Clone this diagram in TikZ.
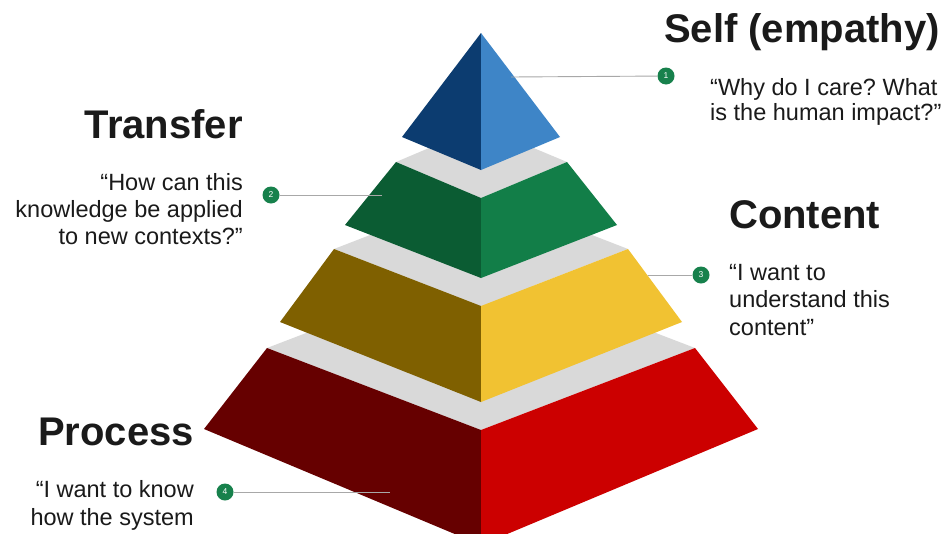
\documentclass[tikz,border=0pt]{standalone}
\usepackage{fontspec}
\setmainfont{Liberation Sans}
\frenchspacing
\definecolor{bluedark}{HTML}{0C3C70}
\definecolor{bluelight}{HTML}{3E85C7}
\definecolor{greendark}{HTML}{0B5C33}
\definecolor{greenlight}{HTML}{127E48}
\definecolor{yeldark}{HTML}{7F6000}
\definecolor{yellight}{HTML}{F1C232}
\definecolor{reddark}{HTML}{660000}
\definecolor{redlight}{HTML}{CC0000}
\definecolor{shelf}{HTML}{D9D9D9}
\definecolor{leader}{HTML}{A8A8A8}
\definecolor{badge}{HTML}{17814C}
\definecolor{ink}{HTML}{1A1A1A}
\tikzset{
  title/.style={inner sep=0pt, text=ink, font={\fontsize{40}{44}\selectfont\bfseries}},
  body/.style={inner sep=0pt, text=ink, font={\fontsize{23.5}{#1}\selectfont\frenchspacing}},
  numdot/.style={circle, fill=badge, minimum size=17pt, inner sep=0pt, text=white, font={\fontsize{8.5}{8.5}\selectfont}},
  leaderline/.style={draw=leader, line width=0.9pt},
}
\begin{document}
\begin{tikzpicture}[x=1pt,y=-1pt]
\clip (0,0) rectangle (950,533);
\fill[white] (0,0) rectangle (950,533);
% red tier
\fill[shelf] (267,348) -- (481,266) -- (695,348) -- (481,430) -- cycle;
\fill[reddark] (267,348) -- (481,430) -- (481,545) -- (204,429) -- cycle;
\fill[redlight] (695,348) -- (481,430) -- (481,545) -- (758,429) -- cycle;
% yellow tier
\fill[shelf] (334,249) -- (481,192) -- (628,249) -- (481,306) -- cycle;
\fill[yeldark] (334,249) -- (481,306) -- (481,402) -- (280,322) -- cycle;
\fill[yellight] (628,249) -- (481,306) -- (481,402) -- (682,322) -- cycle;
% green tier
\fill[shelf] (396,162) -- (481,126) -- (567,162) -- (481,198) -- cycle;
\fill[greendark] (396,162) -- (481,198) -- (481,278) -- (345,225) -- cycle;
\fill[greenlight] (567,162) -- (481,198) -- (481,278) -- (617,225) -- cycle;
% blue top
\fill[bluedark] (481,33) -- (481,170) -- (402,137) -- cycle;
\fill[bluelight] (481,33) -- (481,170) -- (560,137) -- cycle;

% badges and leaders
\coordinate (p1) at (511,77);
\coordinate (p2) at (382,195);
\coordinate (p3) at (648,275);
\coordinate (p4) at (390,492);
\node[numdot] (c1) at (666,76) {1};
\node[numdot] (c2) at (271,195) {2};
\node[numdot] (c3) at (701,275) {3};
\node[numdot] (c4) at (225,492) {4};
\draw[leaderline] (p1) -- (c1);
\draw[leaderline] (p2) -- (c2);
\draw[leaderline] (p3) -- (c3);
\draw[leaderline] (p4) -- (c4);

% texts (multi-line nodes: base anchor is the last line's baseline)
\node[title, anchor=base west] (h1) at (664,42) {Self (empathy)};
\node[body=25, anchor=base west, align=left] (q1) at (710,120) {“Why do I care? What\\is the human impact?”};
\node[title, anchor=base east] (h2) at (243,138) {Transfer};
\node[body=27, anchor=base east, align=right] (q2) at (243,244) {“How can this\\knowledge be applied\\to new contexts?”};
\node[title, anchor=base west] (h3) at (729,228) {Content};
\node[body=27.5, anchor=base west, align=left] (q3) at (729,335) {“I want to\\understand this\\content”};
\node[title, anchor=base east] (h4) at (194,445) {Process};
\node[body=28, anchor=base east, align=right] (q4) at (194,525) {“I want to know\\how the system};
\end{tikzpicture}
\end{document}
